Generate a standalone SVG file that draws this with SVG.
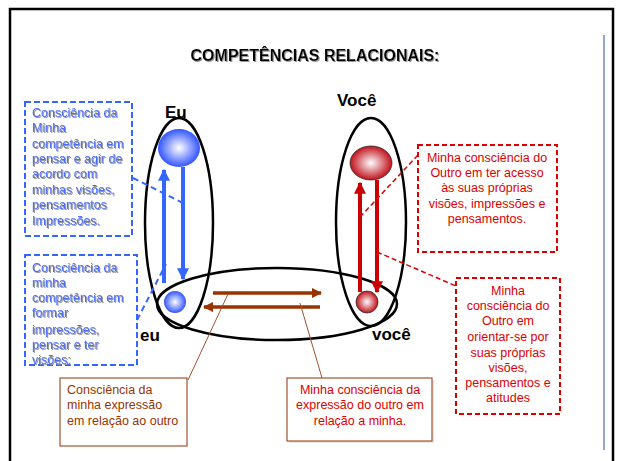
<svg xmlns="http://www.w3.org/2000/svg" width="621" height="461" viewBox="0 0 621 461">
<defs>
<radialGradient id="gb" cx="0.5" cy="0.5" r="0.5"><stop offset="0" stop-color="#ffffff"/><stop offset="1" stop-color="#3355ff"/></radialGradient>
<radialGradient id="gr" cx="0.5" cy="0.5" r="0.5"><stop offset="0" stop-color="#ffffff"/><stop offset="1" stop-color="#c0101a"/></radialGradient>
<marker id="ab" viewBox="0 0 10 10" refX="9" refY="5" markerWidth="3" markerHeight="3" orient="auto"><path d="M0,0 L10,5 L0,10 z" fill="#3366ff"/></marker>
<marker id="ar" viewBox="0 0 10 10" refX="9" refY="5" markerWidth="3" markerHeight="3" orient="auto"><path d="M0,0 L10,5 L0,10 z" fill="#cc0000"/></marker>
<marker id="an" viewBox="0 0 10 10" refX="9" refY="5" markerWidth="3" markerHeight="3" orient="auto"><path d="M0,0 L10,5 L0,10 z" fill="#993300"/></marker>
<filter id="sh" x="-10%" y="-10%" width="130%" height="130%"><feDropShadow dx="1" dy="1" stdDeviation="0.3" flood-color="#999999"/></filter>
</defs>
<style>
text{font-family:"Liberation Sans",Arial,sans-serif}
.big{font-size:17px;font-weight:bold;fill:#000}
.bt{font-size:12.5px;fill:#4a6ef5;filter:url(#sh)}
.rt{font-size:12.5px;fill:#dd0000;text-anchor:middle}
.nt{font-size:12.5px;fill:#993300}
.ell{fill:none;stroke:#000;stroke-width:2.5}
.bbox{fill:#fff;stroke:#3366ff;stroke-width:2;stroke-dasharray:6,3}
.rbox{fill:#fff;stroke:#dd0000;stroke-width:2;stroke-dasharray:5,3}
.nbox{fill:#fff;stroke:#a0522d;stroke-width:1.2}
.bdash{stroke:#3366ff;stroke-width:2;stroke-dasharray:6,4;fill:none}
.rdash{stroke:#dd0000;stroke-width:1.5;stroke-dasharray:5,3;fill:none}
.nline{stroke:#a0522d;stroke-width:1;fill:none}
</style>
<rect x="10" y="9" width="603" height="460" fill="#fff" stroke="#000" stroke-width="2.5"/>
<line x1="604" y1="35" x2="604" y2="450" stroke="#4a6ea8" stroke-width="1.2"/>
<text x="315" y="61" text-anchor="middle" style="font-size:16px;font-weight:bold;filter:url(#sh)">COMPETÊNCIAS RELACIONAIS:</text>

<g id="ellipses">
<ellipse class="ell" cx="179" cy="223" rx="34" ry="105"/>
<ellipse class="ell" cx="371" cy="222" rx="35" ry="104"/>
<ellipse class="ell" cx="277" cy="304" rx="120" ry="36"/>
</g>

<g id="connectors">
<line x1="164" y1="283" x2="164" y2="170" stroke="#3366ff" stroke-width="4" marker-end="url(#ab)"/>
<line x1="183" y1="167" x2="183" y2="279" stroke="#3366ff" stroke-width="4" marker-end="url(#ab)"/>
<line x1="360" y1="292" x2="360" y2="183" stroke="#cc0000" stroke-width="4" marker-end="url(#ar)"/>
<line x1="377" y1="180" x2="377" y2="292" stroke="#cc0000" stroke-width="4" marker-end="url(#ar)"/>
<line x1="213" y1="293" x2="321" y2="293" stroke="#993300" stroke-width="3.5" marker-end="url(#an)"/>
<line x1="320" y1="307" x2="204" y2="307" stroke="#993300" stroke-width="3.5" marker-end="url(#an)"/>
<line class="bdash" x1="133" y1="178" x2="185" y2="204"/>
<line class="bdash" x1="137" y1="320" x2="166" y2="264"/>
<line class="rdash" x1="418" y1="155" x2="360" y2="217"/>
<line class="rdash" x1="377" y1="252" x2="456" y2="286"/>
<line class="nline" x1="228" y1="294" x2="188" y2="380"/>
<line class="nline" x1="300" y1="303" x2="322" y2="378"/>
</g>

<g id="eu-top">
<text class="big" x="165" y="118">Eu</text>
<ellipse cx="179" cy="148" rx="21" ry="19" fill="url(#gb)"/>
</g>
<g id="eu-bottom">
<ellipse cx="175" cy="302" rx="11" ry="11" fill="url(#gb)"/>
<text class="big" x="140" y="341">eu</text>
</g>
<g id="voce-top">
<text class="big" x="337" y="106">Você</text>
<ellipse cx="371" cy="163" rx="21" ry="17" fill="url(#gr)" stroke="#333" stroke-width="0.8"/>
</g>
<g id="voce-bottom">
<ellipse cx="367" cy="302" rx="11" ry="11" fill="url(#gr)" stroke="#333" stroke-width="0.8"/>
<text class="big" x="372" y="340">você</text>
</g>

<g id="box-blue-1">
<rect class="bbox" x="25" y="102" width="107" height="134"/>
<text class="bt"><tspan x="32" y="117">Consciência da</tspan><tspan x="32" y="132">Minha</tspan><tspan x="32" y="148">competência em</tspan><tspan x="32" y="163">pensar e agir de</tspan><tspan x="32" y="178">acordo com</tspan><tspan x="32" y="194">minhas visões,</tspan><tspan x="32" y="209">pensamentos</tspan><tspan x="32" y="225">Impressões.</tspan></text>
</g>
<g id="box-blue-2">
<rect class="bbox" x="25" y="255" width="112" height="110"/>
<text class="bt"><tspan x="32" y="272">Consciência da</tspan><tspan x="32" y="287">minha</tspan><tspan x="32" y="302">competência em</tspan><tspan x="32" y="317">formar</tspan><tspan x="32" y="334">impressões,</tspan><tspan x="32" y="349">pensar e ter</tspan><tspan x="32" y="364">visões:</tspan></text>
</g>
<g id="box-red-1">
<rect class="rbox" x="418" y="145" width="139" height="107"/>
<text class="rt"><tspan x="487" y="162">Minha consciência do</tspan><tspan x="487" y="177">Outro em ter acesso</tspan><tspan x="487" y="192">às suas próprias</tspan><tspan x="487" y="208">visões, impressões e</tspan><tspan x="487" y="223">pensamentos.</tspan></text>
</g>
<g id="box-red-2">
<rect class="rbox" x="456" y="278" width="104" height="136"/>
<text class="rt"><tspan x="508" y="295">Minha</tspan><tspan x="508" y="310">consciência do</tspan><tspan x="508" y="325">Outro em</tspan><tspan x="508" y="341">orientar-se por</tspan><tspan x="508" y="357">suas próprias</tspan><tspan x="508" y="372">visões,</tspan><tspan x="508" y="387">pensamentos e</tspan><tspan x="508" y="402">atitudes</tspan></text>
</g>
<g id="box-brown-1">
<rect class="nbox" x="60" y="378" width="127" height="68"/>
<text class="nt"><tspan x="67" y="394">Consciência da</tspan><tspan x="67" y="409">minha expressão</tspan><tspan x="67" y="425">em relação ao outro</tspan></text>
</g>
<g id="box-brown-2">
<rect x="289" y="380" width="145" height="63" fill="#ccc" opacity="0.5"/>
<rect class="nbox" x="287" y="378" width="145" height="63"/>
<text class="rt"><tspan x="360" y="394">Minha consciência da</tspan><tspan x="360" y="409">expressão do outro em</tspan><tspan x="360" y="425">relação a minha.</tspan></text>
</g>
</svg>
